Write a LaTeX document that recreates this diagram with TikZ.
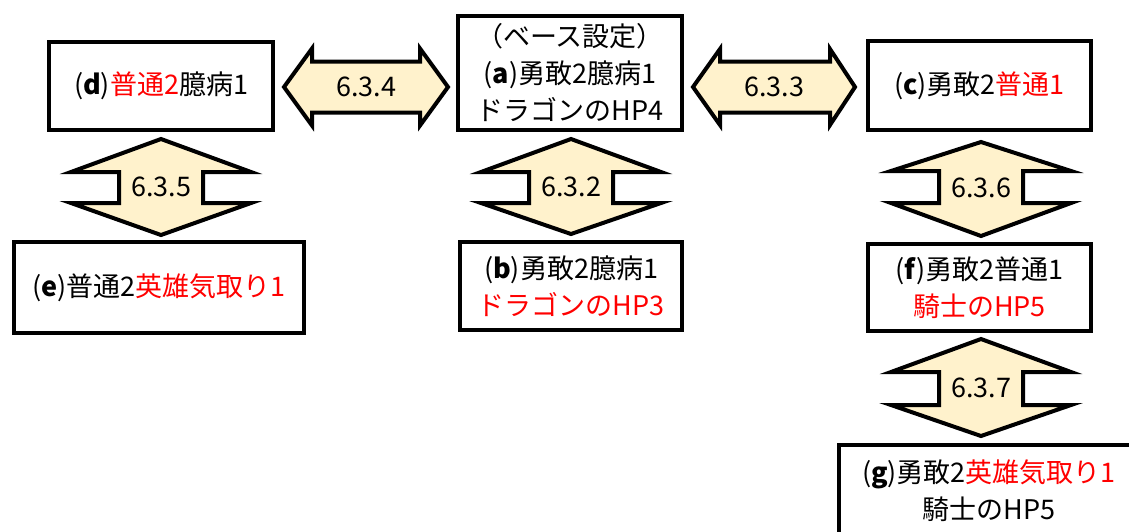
\documentclass[tikz,border=0pt]{standalone}
\usepackage{fontspec}
\setmainfont{Noto Sans CJK JP}
\definecolor{arrowfill}{HTML}{FFF2CC}
\definecolor{redtxt}{HTML}{FF0000}
\newcommand{\rt}[1]{\textcolor{redtxt}{#1}}
\begin{document}
\begin{tikzpicture}[x=1pt,y=-1pt,
  box/.style={draw, line width=4pt, fill=white, align=center, inner sep=0pt,
    font=\fontsize{27}{37}\selectfont},
  arr/.style={draw, line width=4pt, fill=arrowfill, line join=miter},
  lbl/.style={inner sep=0pt, font=\fontsize{27}{30}\selectfont}]
\useasboundingbox (0,0) rectangle (1129,531);
\clip (0,0) rectangle (1129,531);

% boxes
\node[box, minimum width=224pt, minimum height=88pt] (d) at (161,86)
  {(\textbf{d})\rt{普通2}臆病1};
\node[box, minimum width=224pt, minimum height=114pt] (a) at (570,73)
  {（ベース設定）\\(\textbf{a})勇敢2臆病1\\ドラゴンのHP4};
\node[box, minimum width=223pt, minimum height=89pt] (c) at (979.5,85.5)
  {(\textbf{c})勇敢2\rt{普通1}};
\node[box, minimum width=290pt, minimum height=91pt] (e) at (159,287.5)
  {(\textbf{e})普通2\rt{英雄気取り1}};
\node[box, minimum width=222pt, minimum height=88pt] (b) at (571,286)
  {(\textbf{b})勇敢2臆病1\\\rt{ドラゴンのHP3}};
\node[box, minimum width=223pt, minimum height=87pt] (f) at (979.5,287.5)
  {(\textbf{f})勇敢2普通1\\\rt{騎士のHP5}};
\node[box, minimum width=300pt, minimum height=92pt] (g) at (989,491)
  {(\textbf{g})勇敢2\rt{英雄気取り1}\\騎士のHP5};

% horizontal double arrows
\draw[arr] (284,87) -- (312,48.5) -- (312,61.5) -- (420,61.5) -- (420,48.5)
  -- (448,87) -- (420,125.5) -- (420,112.5) -- (312,112.5) -- (312,125.5) -- cycle;
\node[lbl] (l634) at (366,87) {6.3.4};

\draw[arr] (693,87) -- (720,49) -- (720,61.5) -- (830,61.5) -- (830,49)
  -- (855,87) -- (830,125) -- (830,112.5) -- (720,112.5) -- (720,125) -- cycle;
\node[lbl] (l633) at (774,87) {6.3.3};

% vertical double arrows
\draw[arr] (161,139) -- (251,172) -- (203,172) -- (203,203) -- (251,203)
  -- (161,235) -- (71,203) -- (119,203) -- (119,172) -- (71,172) -- cycle;
\node[lbl] (l635) at (161,187) {6.3.5};

\draw[arr] (571,139) -- (661,172) -- (613,172) -- (613,203) -- (661,203)
  -- (571,234) -- (481,203) -- (529,203) -- (529,172) -- (481,172) -- cycle;
\node[lbl] (l632) at (571,187) {6.3.2};

\draw[arr] (981,142) -- (1071,171) -- (1023,171) -- (1023,203) -- (1071,203)
  -- (981,236) -- (891,203) -- (939,203) -- (939,171) -- (891,171) -- cycle;
\node[lbl] (l636) at (981,188) {6.3.6};

\draw[arr] (981,339) -- (1071,372) -- (1023,372) -- (1023,405) -- (1071,405)
  -- (981,436) -- (891,405) -- (939,405) -- (939,372) -- (891,372) -- cycle;
\node[lbl] (l637) at (981,388) {6.3.7};
\end{tikzpicture}
\end{document}
